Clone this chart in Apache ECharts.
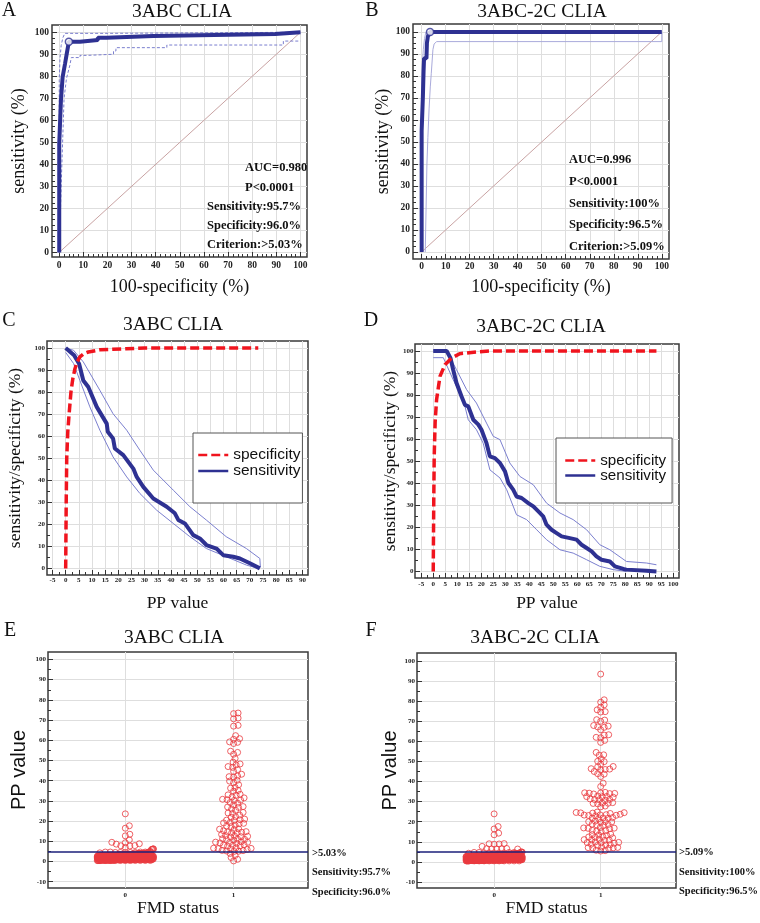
<!DOCTYPE html>
<html><head><meta charset="utf-8">
<script src="https://cdn.jsdelivr.net/npm/echarts@6/dist/echarts.min.js"></script>
<style>html,body{margin:0;padding:0;background:#fff}#c{width:760px;height:923px}</style>
</head><body><div id="c"></div>
<script>
// ---------- DATA ----------
// Panel A: ROC 3ABC CLIA (x = 100-specificity, y = sensitivity)
const rocA_x = [0,0,0.7,1.4,2.4,3.1,3.8,4.0,8.6,8.6,16,16,19.6,19.6,39,39,89.5,89.5,100];
const rocA_y = [0,49.5,69,79.6,85.7,90.2,94.5,95.7,95.7,96.5,96.5,97.5,97.5,98.3,98.3,99.2,99.2,100,100];
const upA_x = [0,0,0.3,0.8,1.5,2.3,18.6,18.6,100];
const upA_y = [0,78,88,94,97.5,99.5,99.5,100,100];
const loA_x = [0,0.8,1,2,3,4.4,5,8.6,8.6,11.4,11.4,22.5,22.5,23.5,23.5,44.6,44.6,92.9,92.9,100];
const loA_y = [0,0,37,70,79,85,88.5,88.5,89.5,89.5,90,90,91.5,91.5,93,93,94.2,94.2,96,96];
const critA = [4.0, 95.7];
// Panel B: ROC 3ABC-2C CLIA
const rocB_x = [0,0,0.5,0.8,1,2,2.2,2.6,3.5,100];
const rocB_y = [0,55,70,82,88,88,95,98,100,100];
const upB_x = [0,0,0.3,0.7,1.2,1.8,100];
const upB_y = [0,70,85,92,97,100,100];
const loB_x = [1.5,2.2,2.6,3.1,3.6,4,4.7,5.2,6.2,100,100];
const loB_y = [0,40,52,65,75,81,92,94.5,95.6,95.6,100];
const critB = [3.5, 100];
const diag_x = [0,100];
const diag_y = [0,100];
// Panel C: 3ABC CLIA sensitivity / specificity vs PP value
const specC_x = [0,0.2,0.4,0.8,1.3,2,2.7,3.5,4.3,5.4,7,8.6,13,23,30,73.2];
const specC_y = [0,30,50,62,70,80,86,90.5,93.5,96,97.5,98.2,99.2,99.7,100,100];
const sensC_x = [0,3.2,5.1,6.7,8.6,11.8,15.6,16,18,18.7,21.9,25.7,27,29.5,33.3,38.4,41.5,42.8,45.3,48.5,51,53.5,57.3,59.9,63.7,66.2,70,73.8];
const sensC_y = [100,96.7,92.9,85.3,82.3,73.3,65.7,62,59,54.4,51.4,45.3,41.5,37,31.7,28,25,22,20.4,15.1,13.6,10.6,9,6,5.3,4.5,2.3,0];
const upC_x = [0,3,6.7,13,18,23.2,28.2,33.3,40.9,47.2,53.5,61,68.7,73.8,74];
const upC_y = [100,99,93.7,80.8,70.2,62.7,53.6,44.6,35.5,28,21.9,14.4,9,4.5,0.5];
const loC_x = [0,3,5.4,9.2,13,18,23.2,28.2,34.6,40.9,47.2,53.5,61,68.7,73.2];
const loC_y = [98,93,85.3,73.3,62.7,50.6,41.5,34,26.4,20.4,14.4,9,5.3,1.5,0];
// Panel D: 3ABC-2C CLIA
const specD_x = [0,0.2,0.4,0.8,1.4,2.8,4.9,7.6,11,19.4,23.6,93];
const specD_y = [0,30,52,68,78,88.5,93.8,96.8,98.8,99.7,100,100];
const sensD_x = [0,5.6,7.2,8.3,9.7,11.8,13.2,14.6,16.7,18.8,20.1,22.2,23.6,25.7,27.8,29.9,31.3,33.3,34.7,36.8,39.6,41.7,43.8,45.8,47.2,49.3,51.4,53.5,56.9,59.7,61.8,63.9,66,68,70.1,73.6,75.7,79.2,80.5,88.9,93];
const sensD_y = [100,100,96.8,91.5,85.5,79.4,75.6,74.9,68.8,66.6,64.3,58.2,52.2,51.4,49.2,45.4,40.1,37.1,34,33.3,31,29.5,27.2,25,21.2,18.9,17.4,15.9,15.1,14.4,12.1,10.6,9.1,6.8,5.3,4.5,2.3,1.1,0.8,0.3,0];
const upD_x = [0,5.6,9.7,13.9,18,22.2,25,27.8,31.9,36.1,41.7,47.2,52.8,58.3,63.9,69.4,73.6,80.5,88.9,93];
const upD_y = [100,100,91.5,82.5,76.4,67.3,61.3,59.8,49.2,43.1,39.3,31,26.5,23.5,18.9,12.1,9.8,4.5,3.8,3];
const loD_x = [0,4.2,8.3,12.5,14.6,18,20.8,23.6,27.8,30.6,34.7,38.9,43.1,47.2,52.8,58.3,63.9,69.4,75,80.5];
const loD_y = [97,97,87,78,68.8,64.3,58.2,46.1,42.4,37.1,25.7,23.5,18.9,14.4,9.8,8.3,5.3,2.3,0.8,0];
// Panel E: dot plot 3ABC CLIA (PP values)
const posE = [73.5,73.2,71.0,70.6,67.4,67.0,62.3,60.8,60.5,59.2,59.0,58.4,54.6,54.0,53.1,51.0,49.2,48.3,47.8,47.0,46.6,45.5,44.6,43.2,42.3,42.0,41.8,40.2,39.8,39.0,38.0,36.7,36.3,35.2,34.8,33.3,33.0,32.8,32.0,31.5,30.8,30.6,30.4,30.2,29.2,28.9,28.0,27.2,27.0,26.8,26.0,25.4,24.3,24.0,23.8,23.0,22.2,21.9,21.0,20.7,20.5,20.3,19.3,19.1,18.9,18.7,18.0,17.6,17.3,16.2,16.0,15.8,15.2,14.8,14.6,14.5,14.3,14.1,13.4,12.8,12.6,12.5,12.3,12.1,11.3,11.1,11.0,10.8,10.6,9.8,9.6,9.5,9.4,9.2,9.0,8.3,8.1,8.0,7.8,7.6,6.8,6.6,6.5,6.4,6.2,6.0,5.5,5.4,5.2,5.1,5.0,4.0,3.0,2.0,1.1,0.3];
const negE_out = [23.6,17.7,16.5,13.5,12.7,10.7,9.5,9.3,8.8,8.6,7.9,7.8,7.7,7.0,6.3,6.2,6.1,6.0,5.9];
const negE_bins = [0.5,0.7,0.9,1.1,1.3,1.5,1.7,1.9,2.1,2.3,2.5,2.7,2.9,3.1,3.3,3.5,3.7,3.9,4.1,4.3,4.5,4.7,4.9];
const negE_counts = [15,25,30,32,32,30,28,26,24,22,20,18,16,14,12,10,9,8,7,6,5,4,3];
// Panel F: dot plot 3ABC-2C CLIA
const posF = [93.5,80.7,79.5,78.2,77.0,75.7,74.8,74.6,70.8,70.6,70.0,67.9,67.6,67.2,67.0,65.8,63.3,63.1,62.0,61.8,60.5,59.5,54.5,53.3,53.1,51.3,50.1,49.9,48.7,47.5,47.3,46.4,46.2,46.0,45.8,45.0,43.9,43.7,42.5,39.2,37.5,
 34.6,34.4,34.3,34.2,34.1,34.0,33.8,32.8,32.6,32.5,32.4,32.2,31.3,31.1,31.0,30.9,30.7,29.5,29.3,29.2,29.1,28.9,27.8,27.4,
 24.8,24.6,24.5,24.4,24.3,24.1,23.7,23.5,23.4,23.3,23.2,23.1,22.9,22.1,21.9,21.8,21.7,21.5,20.3,20.1,20.0,19.9,19.7,
 18.8,18.6,18.4,18.2,17.1,16.9,16.8,16.7,16.5,15.7,15.5,15.3,15.1,13.8,13.6,13.4,13.2,12.6,12.4,12.2,12.0,
 11.3,11.1,11.0,10.9,10.7,9.9,9.7,9.6,9.5,9.3,8.8,8.6,8.4,8.2,7.4,7.2,7.1,7.0,6.9,6.7,5.8,5.6,5.4];
const negF_out = [23.9,17.6,16.4,14.3,13.5,9.1,9.0,8.9,8.8,7.7,6.7,6.6,6.6,6.5,6.5,6.4];
const negF_bins = [0.5,0.7,0.9,1.1,1.3,1.5,1.7,1.9,2.1,2.3,2.5,2.7,2.9,3.1,3.3,3.5,3.7,3.9,4.1,4.3,4.5,4.7,4.9];
const negF_counts = [16,26,32,33,32,31,29,27,25,22,20,18,16,14,12,10,9,8,7,6,5,4,3];
const cutE = 5.03, cutF = 5.09;
const xCats = [0, 1];

// ---------- STYLE / LAYOUT ----------
const SERIF = '"Liberation Serif","Times New Roman",serif';
const SANS = '"Liberation Sans",Arial,sans-serif';
const BLUE = '#2e3192', CI = '#7b7fcf', CIB = '#a9aadb', RED = '#f0141e', DIAG = '#c9a3a3', GRIDC = '#dedede', RINGC = '#ea3a3f';

function range(a,b,s){const r=[];for(let v=a;v<=b+1e-9;v+=s)r.push(Math.round(v*1000)/1000);return r;}
function zip(xs,ys){return xs.map((x,i)=>[x,ys[i]]);}
function expand(vals,counts){const o=[];vals.forEach((v,i)=>{for(let k=0;k<counts[i];k++)o.push(v);});return o;}

const grids = [
  {left:52, top:25, width:255, height:232},
  {left:413, top:24, width:256, height:235},
  {left:47, top:341, width:261, height:234},
  {left:415, top:344, width:264, height:234},
  {left:48, top:652, width:260, height:236},
  {left:417, top:653, width:259, height:235}
];
const axc = [
  {x:{min:-3,max:102.7,major:range(0,100,10),minor:range(0,100,2),lab:9.5,labM:4,name:'100-specificity (%)',gap:21,nf:SERIF,ns:18},
   y:{min:-2.1,max:103.3,major:range(0,100,10),minor:range(0,100,2.5),lab:9.5,labM:3,name:'sensitivity (%)',gap:24,nf:SERIF,ns:18}},
  {x:{min:-3.6,max:103,major:range(0,100,10),minor:range(0,100,2),lab:9.5,labM:3,name:'100-specificity (%)',gap:19,nf:SERIF,ns:18},
   y:{min:-3.2,max:103.6,major:range(0,100,10),minor:range(0,100,2.5),lab:9.5,labM:3,name:'sensitivity (%)',gap:14,nf:SERIF,ns:18}},
  {x:{min:-7.1,max:92.1,major:range(-5,90,5),minor:range(-5,90,2.5),lab:7,labM:2,name:'PP value',gap:19,nf:SERIF,ns:17.5},
   y:{min:-3,max:103.2,major:range(0,100,10),minor:range(0,100,5),lab:7,labM:2,name:'sensitivity/specificity (%)',gap:23,nf:SERIF,ns:17.5}},
  {x:{min:-7.6,max:102.4,major:range(-5,100,5),minor:range(-5,100,2.5),lab:7,labM:3,name:'PP value',gap:16,nf:SERIF,ns:17.5},
   y:{min:-3,max:103.2,major:range(0,100,10),minor:range(0,100,5),lab:7,labM:1.5,name:'sensitivity/specificity (%)',gap:15,nf:SERIF,ns:17.5}},
  {x:{min:-0.714,max:1.687,major:xCats,minor:[],lab:7,labM:4,name:'FMD status',gap:10,nf:SERIF,ns:17.5,noTick:true},
   y:{min:-13.1,max:103.7,major:range(-10,100,10),minor:range(-10,100,5),lab:7,labM:2,name:'PP value',gap:19,nf:SANS,ns:20}},
  {x:{min:-0.724,max:1.707,major:xCats,minor:[],lab:7,labM:4,name:'FMD status',gap:8,nf:SERIF,ns:17.5,noTick:true},
   y:{min:-13,max:104,major:range(-10,100,10),minor:range(-10,100,5),lab:7,labM:2,name:'PP value',gap:17,nf:SANS,ns:20}}
];

const xAxes=[], yAxes=[];
axc.forEach((c,g)=>{
  ['x','y'].forEach(d=>{
    const a=c[d], arr = d==='x'?xAxes:yAxes, pos = d==='x'?'bottom':'left';
    arr.push({type:'value',gridIndex:g,min:a.min,max:a.max,position:pos,
      axisLine:{show:false,onZero:false},
      axisTick:{show:!a.noTick,inside:true,length:5,customValues:a.major,lineStyle:{color:'#333',width:1}},
      axisLabel:{customValues:a.major,fontFamily:SERIF,fontWeight:'bold',fontSize:a.lab,color:'#222',margin:a.labM},
      splitLine:{show:true,lineStyle:{color:GRIDC,width:1}},
      name:a.name,nameLocation:'middle',nameGap:a.gap,
      nameTextStyle:{fontFamily:a.nf,fontSize:a.ns,color:'#111'}});
    arr.push({type:'value',gridIndex:g,min:a.min,max:a.max,position:pos,
      axisLine:{show:false,onZero:false},
      axisTick:{show:a.minor.length>0,inside:true,length:3,customValues:a.minor.length?a.minor:[a.min],lineStyle:{color:'#333',width:1}},
      axisLabel:{show:false},splitLine:{show:false}});
  });
});

function line(g,xs,ys,ls,name,z){
  return {type:'line',name:name||'',xAxisIndex:2*g,yAxisIndex:2*g,data:zip(xs,ys),symbol:'none',
    lineStyle:ls,silent:true,z:z||2,clip:true};
}

// beeswarm layout (pixel-space collision avoidance; overflow laid out in sorted rows)
function swarm(values, center, g, dist, maxHalf, perRow){
  const gr=grids[g], a=axc[g];
  const pxX = gr.width/(a.x.max-a.x.min), pxY = gr.height/(a.y.max-a.y.min);
  const sorted = values.slice().sort((p,q)=>p-q);
  const placed=[], out=[], overflow=[];
  for(const v of sorted){
    const yp=v*pxY; let found=null;
    for(let k=0;;k++){
      const off=(k%2===1?1:-1)*Math.ceil(k/2)*0.5;
      if(Math.abs(off)>maxHalf) break;
      let ok=true;
      for(const p of placed){const dx=p.x-off,dy=p.y-yp; if(dx*dx+dy*dy<dist*dist){ok=false;break;}}
      if(ok){found=off;break;}
    }
    if(found===null) overflow.push(v); else {placed.push({x:found,y:yp}); out.push([center+found/pxX,v]);}
  }
  const rows=Math.max(1,Math.ceil(overflow.length/perRow));
  const size=Math.ceil(overflow.length/rows);
  for(let r=0;r<rows;r++){
    const chunk=overflow.slice(r*size,(r+1)*size), n=chunk.length;
    chunk.forEach((v,i)=>{const off=n>1?-maxHalf+2*maxHalf*i/(n-1):0; out.push([center+off/pxX,v]);});
  }
  return out;
}

const series=[];
// A
series.push(line(0,diag_x,diag_y,{color:DIAG,width:1}));
series.push(line(0,upA_x,upA_y,{color:CI,width:1,type:[3,2]}));
series.push(line(0,loA_x,loA_y,{color:CI,width:1,type:[3,2]}));
series.push(line(0,rocA_x,rocA_y,{color:BLUE,width:4},'',3));
series.push({type:'scatter',xAxisIndex:0,yAxisIndex:0,data:[critA],symbol:'circle',symbolSize:7,
  itemStyle:{color:'#fff',borderColor:BLUE,borderWidth:1.5},z:5,silent:true});
// B
series.push(line(1,diag_x,diag_y,{color:DIAG,width:1}));
series.push(line(1,upB_x,upB_y,{color:CIB,width:1}));
series.push(line(1,loB_x,loB_y,{color:CIB,width:1}));
series.push(line(1,rocB_x,rocB_y,{color:BLUE,width:4},'',3));
series.push({type:'scatter',xAxisIndex:2,yAxisIndex:2,data:[critB],symbol:'circle',symbolSize:7,
  itemStyle:{color:'#fff',borderColor:BLUE,borderWidth:1.5},z:5,silent:true});
// C
series.push(line(2,upC_x,upC_y,{color:CI,width:1}));
series.push(line(2,loC_x,loC_y,{color:CI,width:1}));
series.push(line(2,sensC_x,sensC_y,{color:BLUE,width:4},'sensitivity',3));
series.push(line(2,specC_x,specC_y,{color:RED,width:3.5,type:[9,4]},'specificity',4));
// D
series.push(line(3,upD_x,upD_y,{color:CI,width:1}));
series.push(line(3,loD_x,loD_y,{color:CI,width:1}));
series.push(line(3,sensD_x,sensD_y,{color:BLUE,width:4},'sensitivity',3));
series.push(line(3,specD_x,specD_y,{color:RED,width:3.5,type:[9,4]},'specificity',4));
// E, F dot plots
function dots(g,data){
  return {type:'scatter',xAxisIndex:2*g,yAxisIndex:2*g,data:data,symbol:'circle',symbolSize:6,
    itemStyle:{color:'rgba(0,0,0,0)',borderColor:RINGC,borderWidth:1},silent:true,z:2};
}
const negE = negE_out.concat(expand(negE_bins,negE_counts));
const negF = negF_out.concat(expand(negF_bins,negF_counts));
series.push(dots(4,swarm(negE,xCats[0],4,4.6,28,95)));
series.push(dots(4,swarm(posE,xCats[1],4,4.1,26,95)));
series.push(dots(5,swarm(negF,xCats[0],5,4.6,28,95)));
series.push(dots(5,swarm(posF,xCats[1],5,4.1,26,95)));
function cutLine(g,v){
  return {type:'line',xAxisIndex:2*g,yAxisIndex:2*g,data:[],symbol:'none',silent:true,
    markLine:{silent:true,symbol:'none',z:6,label:{show:false},lineStyle:{color:'#1b1f7a',width:1.5,type:'solid'},
      data:[{yAxis:v}]}};
}
series.push(cutLine(4,cutE));
series.push(cutLine(5,cutF));

// texts
function T(text,x,y,font,align){return {type:'text',x:x,y:y,silent:true,z:10,
  style:{text:text,font:font,fill:'#111',align:align||'center',verticalAlign:'middle'}};}
const fL='20px '+SERIF, fT='19.5px '+SERIF, fA='bold 12.5px '+SERIF, fE='bold 10.5px '+SERIF;
const graphic=[
  T('A',9,11,fL),T('B',372,11,fL),T('C',9,321,fL),T('D',371,321,fL),T('E',10,631,fL),T('F',371,631,fL),
  T('3ABC CLIA',182,12,fT),T('3ABC-2C CLIA',542,12,fT),T('3ABC CLIA',173,325,fT),
  T('3ABC-2C CLIA',541,327,fT),T('3ABC CLIA',174,638,fT),T('3ABC-2C CLIA',535,638,fT),
  T('AUC=0.980',245,168,fA,'left'),T('P<0.0001',245,187.3,fA,'left'),
  T('Sensitivity:95.7%',207,206.5,fA,'left'),T('Specificity:96.0%',207,225.8,fA,'left'),T('Criterion:>5.03%',207,245,fA,'left'),
  T('AUC=0.996',569,160,fA,'left'),T('P<0.0001',569,181.7,fA,'left'),
  T('Sensitivity:100%',569,203.3,fA,'left'),T('Specificity:96.5%',569,225,fA,'left'),T('Criterion:>5.09%',569,246.7,fA,'left'),
  T('>5.03%',312,853,fE,'left'),T('Sensitivity:95.7%',312,872,fE,'left'),T('Specificity:96.0%',312,892,fE,'left'),
  T('>5.09%',679,852,fE,'left'),T('Sensitivity:100%',679,872,fE,'left'),T('Specificity:96.5%',679,891,fE,'left')
];

const legendBase = {data:['specificity','sensitivity'],orient:'vertical',itemWidth:30,itemHeight:10,itemGap:0,
  selectedMode:false,borderColor:'#555',borderWidth:1,backgroundColor:'#fff',borderRadius:0,
  itemStyle:{color:'rgba(0,0,0,0)',borderWidth:0,opacity:0},
  lineStyle:{width:2.5},textStyle:{fontFamily:SANS,fontSize:15.5,color:'#111',lineHeight:15}};
const legend=[
  Object.assign({},legendBase,{left:193,top:433,padding:[14,2,24,4]}),
  Object.assign({},legendBase,{left:556,top:438,padding:[15,6,20,8],textStyle:Object.assign({},legendBase.textStyle,{fontSize:15.2,lineHeight:14})})
];

const chart = echarts.init(document.getElementById('c'),null,{renderer:'canvas',width:760,height:923});
chart.setOption({
  animation:false,backgroundColor:'#fff',
  grid:grids.map(g=>Object.assign({show:true,borderColor:'#3a3a3a',borderWidth:1.5,backgroundColor:'#fff',containLabel:false},g)),
  xAxis:xAxes,yAxis:yAxes,series:series,legend:legend,graphic:graphic
});
</script></body></html>
